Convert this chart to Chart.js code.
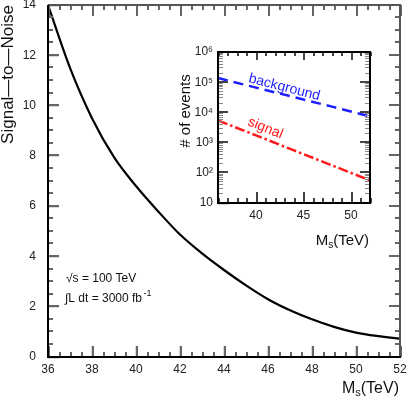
<!DOCTYPE html>
<html><head><meta charset="utf-8">
<script src="https://cdn.jsdelivr.net/npm/chart.js@4.4.1/dist/chart.umd.min.js"></script>
<style>
html,body{margin:0;padding:0;background:#fff;}
#wrap{position:relative;width:407px;height:398px;overflow:hidden;}
#wrap canvas{position:absolute;left:0;top:0;}
</style></head><body>
<div id="wrap"><canvas id="main" width="407" height="398"></canvas><canvas id="inset" width="407" height="398"></canvas></div>
<script>
// ---- data ----
const massPoints = [36,37,38,39,40,41,42,43,44,45,46,47,48,49,50,51,52];
const signalToNoise = [14.0,11.5,9.5,7.95,6.8,5.8,4.87,4.12,3.46,2.85,2.3,1.86,1.5,1.2,0.97,0.83,0.73];
const mainXTicks = [36,38,40,42,44,46,48,50,52];
const mainYTicks = [0,2,4,6,8,10,12,14];
const insetMass = [36,40,44,48,52];
const backgroundEvents = [138000,66000,32000,15500,7400];
const signalEvents = [5400,1730,553,176,56];
const insetXTicks = [40,45,50];
const insetYTicks = [10,100,1000,10000,100000,1000000];
const insetYTickLabels = ['10','10\u00B2','10\u00B3','10\u2074','10\u2075','10\u2076'];

const FONT = "'Liberation Sans', Arial, Helvetica, sans-serif";

function noPad(s){ s.paddingTop=0; s.paddingBottom=0; s.paddingLeft=0; s.paddingRight=0; }

function fracPos(v, lo, hi, log){
  return log ? (Math.log10(v)-Math.log10(lo))/(Math.log10(hi)-Math.log10(lo)) : (v-lo)/(hi-lo);
}
function tickRects(ctx, list, color){
  ctx.fillStyle = color;
  for (const r of list) ctx.fillRect(r[0], r[1], r[2], r[3]);
}

function drawMsTitle(ctx, rightX, baseY, size){
  const sub = Math.round(size*0.68);
  ctx.textBaseline='alphabetic'; ctx.textAlign='left';
  ctx.font = size+'px '+FONT; const wM = ctx.measureText('M').width; const wT = ctx.measureText('(TeV)').width;
  ctx.font = sub+'px '+FONT; const wS = ctx.measureText('s').width;
  let x = rightX - wM - wS - wT;
  ctx.font = size+'px '+FONT; ctx.fillText('M', x, baseY); x += wM;
  ctx.font = sub+'px '+FONT; ctx.fillText('s', x, baseY + size*0.18); x += wS;
  ctx.font = size+'px '+FONT; ctx.fillText('(TeV)', x, baseY);
}

const mainDecor = {
  id:'mainDecor',
  afterDraw(chart){
    const ctx = chart.ctx, a = chart.chartArea;
    const W = a.right - a.left, H = a.bottom - a.top;
    ctx.save();
    ctx.setTransform(1,0,0,1,0,0);
    ctx.globalAlpha = 1; ctx.globalCompositeOperation = 'source-over';
    const rects = [];
    for(let k=0;k<=32;k++){
      const px = Math.floor(a.left + fracPos(36 + k*0.5, 36, 52, false)*W), L = (k%4===0)?11:5;
      rects.push([px, a.bottom-L, 2, L]); rects.push([px, a.top, 2, L]);
    }
    for(let k=0;k<=28;k++){
      const py = Math.floor(a.bottom - fracPos(k*0.5, 0, 14, false)*H), L = (k%4===0)?11:5;
      rects.push([a.left, py-1, L, 2]); rects.push([a.right-L, py-1, L, 2]);
    }
    tickRects(ctx, rects, '#666666');
    ctx.fillStyle='#555555';
    ctx.fillRect(a.left, a.top-1, a.right-a.left+1, 2);
    ctx.fillRect(a.right-1, a.top-1, 2, a.bottom-a.top+1);
    ctx.fillStyle='#000000';
    ctx.fillRect(a.left-1, a.top, 2, a.bottom-a.top+1);
    ctx.fillRect(a.left-1, a.bottom-1, a.right-a.left+2, 2);
    // titles
    ctx.fillStyle='#111';
    ctx.save(); ctx.translate(13,5); ctx.rotate(-Math.PI/2);
    ctx.font='17px '+FONT; ctx.textAlign='right'; ctx.textBaseline='alphabetic';
    ctx.fillText('Signal\u2014to\u2014Noise',0,0); ctx.restore();
    drawMsTitle(ctx, 399, 393, 16);
    // annotations
    ctx.font='12px '+FONT; ctx.textAlign='left'; ctx.textBaseline='alphabetic';
    ctx.fillText('\u221As = 100 TeV', 66, 281.5);
    const t = '\u222BL dt = 3000 fb';
    ctx.fillText(t, 65, 301.5);
    const w = ctx.measureText(t).width;
    ctx.font='9px '+FONT; ctx.fillText('-1', 65+w+1.5, 296);
    ctx.restore();
  }
};

new Chart(document.getElementById('main'), {
  type:'line',
  data:{datasets:[{data: massPoints.map((m,i)=>({x:m,y:signalToNoise[i]})), borderColor:'#000', borderWidth:2.2, pointRadius:0, cubicInterpolationMode:'monotone', fill:false}]},
  options:{
    responsive:false, animation:false, devicePixelRatio:1,
    layout:{padding:{top:5,right:7,left:0,bottom:0}},
    plugins:{legend:{display:false},tooltip:{enabled:false},title:{display:false}},
    scales:{
      x:{type:'linear',min:36,max:52,
         afterBuildTicks:s=>{s.ticks=mainXTicks.map(v=>({value:v}));},
         afterFit:s=>{s.height=41; noPad(s);},
         grid:{display:true,drawOnChartArea:false,drawTicks:true,tickLength:-11,tickColor:'#666666',tickWidth:1.5}, border:{display:false},
         ticks:{padding:16,color:'#222',font:{family:FONT,size:12},maxRotation:0,autoSkip:false}},
      y:{type:'linear',min:0,max:14,
         afterBuildTicks:s=>{s.ticks=mainYTicks.map(v=>({value:v}));},
         afterFit:s=>{s.width=48; noPad(s);},
         grid:{display:true,drawOnChartArea:false,drawTicks:true,tickLength:-11,tickColor:'#666666',tickWidth:1.5}, border:{display:false},
         ticks:{padding:23,color:'#222',font:{family:FONT,size:12},autoSkip:false}}
    }
  },
  plugins:[mainDecor]
});

const insetDecor = {
  id:'insetDecor',
  beforeDatasetsDraw(chart){
    const ctx=chart.ctx, a=chart.chartArea;
    ctx.save(); ctx.fillStyle='#fff'; ctx.fillRect(a.left,a.top,a.right-a.left,a.bottom-a.top); ctx.restore();
  },
  afterDraw(chart){
    const ctx=chart.ctx, a=chart.chartArea;
    const W = a.right - a.left, H = a.bottom - a.top;
    ctx.save();
    ctx.setTransform(1,0,0,1,0,0);
    ctx.globalAlpha = 1; ctx.globalCompositeOperation = 'source-over';
    const maj = [], mnr = [];
    for(let v=36; v<=52; v++){
      const px=Math.floor(a.left + fracPos(v,36,52,false)*W), M=(v%5===0);
      maj.push([px, a.bottom-(M?11:5), 2, (M?11:5)]); maj.push([px, a.top, 2, (M?8:4)]);
    }
    for(let d=10; d<1e6; d*=10){
      for(let m=1;m<10;m++){
        const py=Math.floor(a.bottom - fracPos(d*m,10,1e6,true)*H);
        if(m===1){ maj.push([a.left, py-1, 10, 2]); maj.push([a.right-10, py-1, 10, 2]); }
        else { mnr.push([a.left, py, 5, 1]); mnr.push([a.right-5, py, 5, 1]); }
      }
    }
    tickRects(ctx, mnr, '#888888');
    tickRects(ctx, maj, '#444444');
    ctx.fillStyle='#000';
    ctx.fillRect(a.left-1, a.top-1, 2, a.bottom-a.top+2);
    ctx.fillRect(a.right-1, a.top-1, 2, a.bottom-a.top+2);
    ctx.fillRect(a.left-1, a.top-1, a.right-a.left+2, 2);
    ctx.fillRect(a.left-1, a.bottom-1, a.right-a.left+2, 2);
    // titles
    ctx.fillStyle='#111';
    ctx.save(); ctx.translate(190,111); ctx.rotate(-Math.PI/2);
    ctx.font='15px '+FONT; ctx.textAlign='center'; ctx.textBaseline='alphabetic';
    ctx.fillText('# of events',0,0); ctx.restore();
    drawMsTitle(ctx, 369, 245, 15);
    // line labels
    ctx.font='14px '+FONT; ctx.textAlign='left'; ctx.textBaseline='alphabetic';
    ctx.save(); ctx.translate(248,82); ctx.rotate(14.5*Math.PI/180);
    ctx.fillStyle='rgb(30,30,255)'; ctx.fillText('background',0,0); ctx.restore();
    ctx.save(); ctx.translate(247,125); ctx.rotate(22*Math.PI/180);
    ctx.fillStyle='rgb(255,25,25)'; ctx.fillText('signal',0,0); ctx.restore();
    ctx.restore();
  }
};

new Chart(document.getElementById('inset'), {
  type:'line',
  data:{datasets:[
    {data: insetMass.map((m,i)=>({x:m,y:backgroundEvents[i]})), borderColor:'rgb(30,30,255)', borderWidth:2.5, borderDash:[10,6], pointRadius:0, tension:0, fill:false},
    {data: insetMass.map((m,i)=>({x:m,y:signalEvents[i]})), borderColor:'rgb(255,25,25)', borderWidth:2.5, borderDash:[10,3,2.5,3], pointRadius:0, tension:0, fill:false}
  ]},
  options:{
    responsive:false, animation:false, devicePixelRatio:1,
    layout:{padding:{left:150,right:37,top:52,bottom:150}},
    plugins:{legend:{display:false},tooltip:{enabled:false},title:{display:false}},
    scales:{
      x:{type:'linear',min:36,max:52,
         afterBuildTicks:s=>{s.ticks=insetXTicks.map(v=>({value:v}));},
         afterFit:s=>{s.height=45; noPad(s);},
         grid:{display:true,drawOnChartArea:false,drawTicks:true,tickLength:-11,tickColor:'#444444',tickWidth:1.5}, border:{display:false},
         ticks:{padding:16,color:'#222',font:{family:FONT,size:12},maxRotation:0,autoSkip:false}},
      y:{type:'logarithmic',min:10,max:1000000,
         afterBuildTicks:s=>{s.ticks=insetYTicks.map(v=>({value:v}));},
         afterFit:s=>{s.width=68; noPad(s);},
         grid:{display:true,drawOnChartArea:false,drawTicks:true,tickLength:-10,tickColor:'#444444',tickWidth:1.5}, border:{display:false},
         ticks:{padding:15,color:'#222',font:{family:FONT,size:12},autoSkip:false,
                callback:(v,i)=>insetYTickLabels[i]}}
    }
  },
  plugins:[insetDecor]
});
</script>
</body></html>
